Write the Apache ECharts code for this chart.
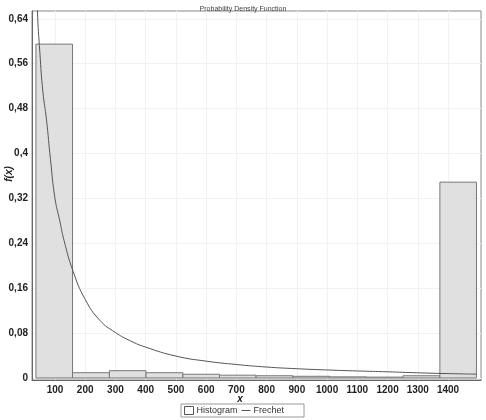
<!DOCTYPE html>
<html><head><meta charset="utf-8">
<script src="https://cdn.jsdelivr.net/npm/echarts@6/dist/echarts.min.js"></script>
<style>html,body{margin:0;padding:0;background:#fff}#c{width:486px;height:420px}</style>
</head><body><div id="c"></div>
<script>
const binEdges = [37, 158, 280, 401, 523, 644, 765, 887, 1008, 1130, 1251, 1373, 1494];
const histValues = [0.595, 0.0094, 0.013, 0.0094, 0.0066, 0.005, 0.004, 0.003, 0.002, 0.0015, 0.004, 0.349];
const frechetX = [35, 42, 50, 60, 72, 85, 100, 116, 130, 160, 200, 248, 300, 350, 400, 500, 600, 700, 800, 900, 1000, 1100, 1200, 1300, 1400, 1494];
const frechetY = [0.80, 0.655, 0.58, 0.51, 0.46, 0.39, 0.32, 0.28, 0.245, 0.19, 0.14, 0.103, 0.081, 0.066, 0.055, 0.039, 0.030, 0.024, 0.0195, 0.0165, 0.0143, 0.0125, 0.011, 0.0092, 0.0078, 0.0068];
const xTicks = [100, 200, 300, 400, 500, 600, 700, 800, 900, 1000, 1100, 1200, 1300, 1400];
const yTicks = [0, 0.08, 0.16, 0.24, 0.32, 0.4, 0.48, 0.56, 0.64];

const histData = histValues.map((h, i) => [binEdges[i], binEdges[i + 1], h]);
const lineData = frechetX.map((x, i) => [x, frechetY[i]]);
const FONT = '"Liberation Sans", Arial, sans-serif';
const lineIcon = 'path://M0,3.5L10,3.5L10,4.6L0,4.6Z M0,0L0.01,0L0.01,0.01Z M10,8L10.01,8L10.01,8.01Z';
const nameStyle = {fontSize: 10, fontWeight: 'bold', fontStyle: 'italic', fill: '#222', fontFamily: FONT,
  align: 'center', verticalAlign: 'middle'};

const chart = echarts.init(document.getElementById('c'), null, {renderer: 'canvas'});
chart.setOption({
  animation: false,
  backgroundColor: '#fff',
  title: {
    text: 'Probability Density Function', left: 'center', top: 1,
    textStyle: {fontSize: 7, fontWeight: 'normal', color: '#444', fontFamily: FONT}
  },
  grid: {left: 32, right: 5, top: 11, bottom: 40, containLabel: false, outerBoundsMode: 'none',
    show: true, borderColor: '#888', borderWidth: 1, backgroundColor: '#fff'},
  graphic: [
    {type: 'text', x: 9, y: 174, rotation: Math.PI / 2, style: Object.assign({text: 'f(x)'}, nameStyle)},
    {type: 'text', x: 240, y: 399, style: Object.assign({text: 'x'}, nameStyle)}
  ],
  xAxis: {
    type: 'value', min: 24, max: 1509,
    axisLine: {show: true, onZero: false, lineStyle: {color: '#666'}},
    axisTick: {show: false, customValues: xTicks},
    axisLabel: {customValues: xTicks, margin: 5, fontSize: 10, fontWeight: 'bold', color: '#222', fontFamily: FONT,
      formatter: v => String(v)},
    splitLine: {show: true, lineStyle: {color: '#f2f2f2', width: 1}}
  },
  yAxis: {
    type: 'value', min: -0.0036, max: 0.654,
    axisLine: {show: true, lineStyle: {color: '#666'}},
    axisTick: {show: false, customValues: yTicks},
    axisLabel: {customValues: yTicks, margin: 4, fontSize: 10, fontWeight: 'bold', color: '#222', fontFamily: FONT,
      formatter: v => String(v).replace('.', ',')},
    splitLine: {show: true, lineStyle: {color: '#f2f2f2', width: 1}}
  },
  legend: {
    left: 181, top: 404, orient: 'horizontal',
    padding: [2, 20, 2, 3], borderColor: '#999', borderWidth: 1, borderRadius: 0,
    itemWidth: 9, itemHeight: 8, itemGap: 4,
    textStyle: {fontSize: 9, color: '#333', fontFamily: FONT, padding: [0, 0, 0, -2]},
    data: [
      {name: 'Histogram', icon: 'rect', itemStyle: {color: '#fff', borderColor: '#555', borderWidth: 1}},
      {name: 'Frechet', icon: lineIcon, itemStyle: {color: '#555', borderWidth: 0}}
    ]
  },
  series: [
    {
      name: 'Histogram', type: 'custom',
      itemStyle: {color: '#e0e0e0', borderColor: '#777'},
      encode: {x: [0, 1], y: 2},
      data: histData,
      renderItem: function (params, api) {
        const p0 = api.coord([api.value(0), api.value(2)]);
        const p1 = api.coord([api.value(1), 0]);
        return {
          type: 'rect',
          shape: {x: p0[0], y: p0[1], width: p1[0] - p0[0], height: p1[1] - p0[1]},
          style: {fill: '#e0e0e0', stroke: '#777', lineWidth: 1}
        };
      },
      clip: true
    },
    {
      name: 'Frechet', type: 'line', data: lineData, smooth: 0.5, symbol: 'none',
      lineStyle: {color: '#555', width: 1}, itemStyle: {color: '#555'}, clip: true
    }
  ]
});
</script></body></html>
